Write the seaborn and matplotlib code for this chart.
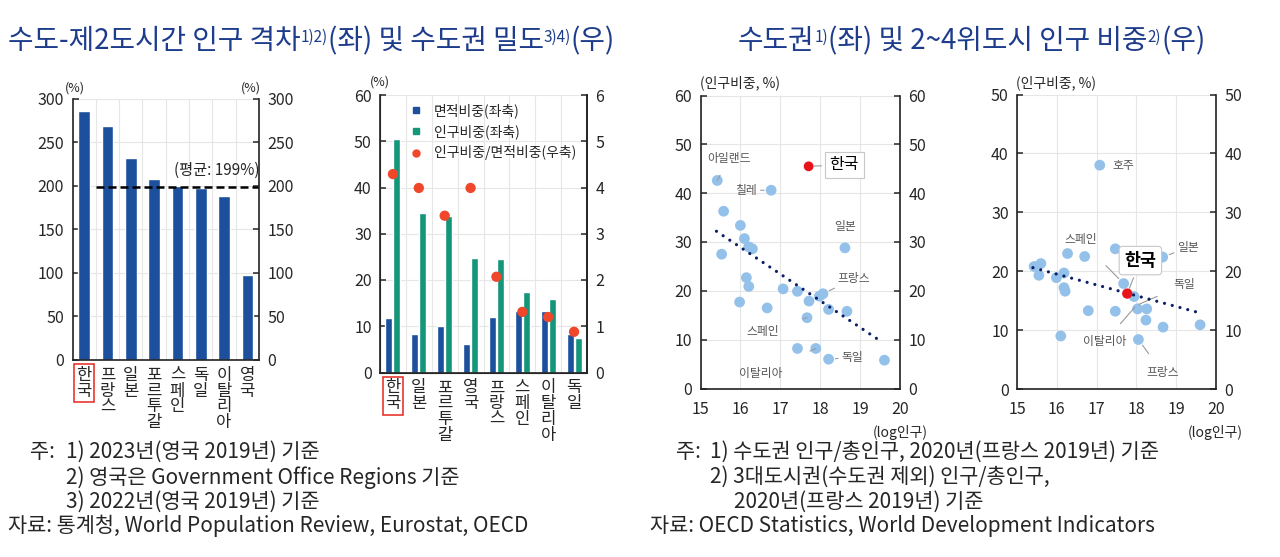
import numpy as np
import pandas as pd
import matplotlib.pyplot as plt
import seaborn as sns
from matplotlib.lines import Line2D

# 수도-제2도시간 인구 격차 (%)
GAP_COUNTRIES = ['한국', '프랑스', '일본', '포르투갈', '스페인', '독일', '이탈리아', '영국']
GAP_VALUES = [286, 269, 232, 208, 200, 197, 188, 97]
GAP_AVG = 199

# 수도권 밀도
DENS_COUNTRIES = ['한국', '일본', '포르투갈', '영국', '프랑스', '스페인', '이탈리아', '독일']
AREA_SHARE = [11.7, 8.4, 10.0, 6.1, 11.9, 13.3, 13.3, 8.4]
POP_SHARE = [50.5, 34.4, 33.9, 24.8, 24.5, 17.4, 15.9, 7.5]
RATIO = [4.29, 3.99, 3.39, 3.99, 2.07, 1.31, 1.20, 0.88]

# 수도권 인구 비중 vs log인구
CAP_LOGPOP = [15.42, 16.77, 15.58, 16.00, 16.10, 16.21, 16.30, 15.53, 16.15, 16.21,
              15.98, 16.67, 17.07, 17.43, 17.43, 18.62, 17.72, 17.98, 18.07, 18.21,
              18.67, 17.67, 17.89, 18.21, 19.61]
CAP_SHARE = [42.6, 40.6, 36.3, 33.4, 30.7, 29.0, 28.6, 27.5, 22.7, 20.9,
             17.7, 16.5, 20.4, 19.9, 8.2, 28.8, 17.9, 18.9, 19.4, 16.2,
             15.8, 14.5, 8.2, 6.0, 5.8]
KOR_CAP = (17.71, 45.5)
TREND_CAP_X = [15.40, 19.55]
TREND_CAP_Y = [32.2, 9.5]

# 2~4위도시 인구 비중 vs log인구
BIG_LOGPOP = [17.08, 15.43, 15.60, 15.55, 15.99, 16.18, 16.18, 16.21, 16.27, 16.70,
              16.79, 16.10, 17.47, 17.47, 17.68, 17.94, 18.03, 18.26, 18.24, 18.05,
              18.66, 18.67, 19.60]
BIG_SHARE = [38.0, 20.8, 21.3, 19.3, 18.9, 19.7, 17.2, 16.6, 23.0, 22.5,
             13.3, 9.0, 23.8, 13.2, 17.9, 15.7, 13.6, 13.6, 11.7, 8.4,
             22.4, 10.5, 10.9]
KOR_BIG = (17.77, 16.2)
TREND_BIG_X = [15.40, 19.55]
TREND_BIG_Y = [20.6, 13.0]

BLUE = '#1c4f9c'
GREEN = '#14967a'
RED = '#f0472a'
LIGHT = '#93c1e9'
NAVY = '#0b1f66'
TITLE_C = '#1d3c8c'
GRID = '#e6e6e6'
LABEL_C = '#555555'
LEAD_C = '#9a9a9a'


def style_axis(ax, right_labels=True):
    for s in ['left', 'right', 'bottom']:
        ax.spines[s].set_visible(True)
        ax.spines[s].set_color('#222222')
        ax.spines[s].set_linewidth(1.2)
    ax.spines['top'].set_visible(False)
    ax.tick_params(axis='y', direction='in', length=4, width=1.1, labelsize=11.5,
                   left=True, right=True, labelright=right_labels, pad=6)
    ax.set_xlabel('')
    ax.set_ylabel('')


def draw_title(bg, x, y, parts, size=20):
    base = None
    prev = None
    for txt, sup in parts:
        if base is None:
            t = bg.text(x, y, txt, fontsize=size, color=TITLE_C, ha='left', va='bottom')
            base = t
        elif sup:
            t = bg.annotate(txt, xy=(1, 0.92), xycoords=(prev, base), fontsize=size * 0.55,
                            color=TITLE_C, ha='left', va='top')
        else:
            t = bg.annotate(txt, xy=(1, 0), xycoords=(prev, base), fontsize=size,
                            color=TITLE_C, ha='left', va='bottom')
        prev = t


def vertical_labels(ax, names):
    ax.set_xticks(np.arange(len(names)))
    ax.set_xticklabels(['\n'.join(n) for n in names], fontsize=12, linespacing=0.9,
                       va='top')
    ax.tick_params(axis='x', length=0, pad=5)
    lbl = ax.get_xticklabels()[0]
    lbl.set_bbox(dict(facecolor='none', edgecolor='#e8241c', lw=1.1, boxstyle='square,pad=0.15'))


def leader(ax, text, point, pos, size=8.5, **kw):
    ax.annotate(text, xy=point, xytext=pos, fontsize=size, color=LABEL_C,
                ha=kw.pop('ha', 'center'), va='center',
                arrowprops=dict(arrowstyle='-', color=LEAD_C, lw=0.8,
                                shrinkA=kw.pop('shrinkA', 3), shrinkB=kw.pop('shrinkB', 5)),
                **kw)


def main():
    sns.set_style('white')
    plt.rcParams['font.family'] = ['Noto Sans CJK KR', 'DejaVu Sans']

    fig = plt.figure(figsize=(12.8, 5.57), dpi=100)
    bg = fig.add_axes([0, 0, 1, 1])
    bg.set_xlim(0, 1280)
    bg.set_ylim(557, 0)
    bg.axis('off')

    W, H = 1280, 557

    def rect(x0, y0, x1, y1):
        return [x0 / W, 1 - y1 / H, (x1 - x0) / W, (y1 - y0) / H]

    # ---- panel 1: 인구 격차 ----
    ax1 = fig.add_axes(rect(72.5, 98.5, 259, 360))
    sns.barplot(x=GAP_COUNTRIES, y=GAP_VALUES, color=BLUE, saturation=1, width=0.5, ax=ax1)
    ax1.axhline(GAP_AVG, xmin=1 / len(GAP_COUNTRIES), xmax=1, color='black', lw=1.8,
                ls=(0, (3.2, 1.6)))
    ax1.text(len(GAP_COUNTRIES) - 0.5, GAP_AVG + 9, f'(평균: {GAP_AVG}%)', fontsize=11,
             ha='right', va='bottom')
    ax1.set_ylim(0, 300)
    ax1.set_xlim(-0.5, len(GAP_COUNTRIES) - 0.5)
    ax1.set_yticks(np.arange(0, 301, 50))
    ax1.set_xticks(np.arange(len(GAP_COUNTRIES)) + 0.5, minor=True)
    ax1.grid(True, which='minor', axis='x', color=GRID, lw=0.8)
    ax1.grid(True, which='major', axis='y', color=GRID, lw=0.8)
    ax1.set_axisbelow(True)
    style_axis(ax1)
    ax1.tick_params(axis='x', which='minor', length=0)
    vertical_labels(ax1, GAP_COUNTRIES)
    bg.text(75, 88, '(%)', fontsize=9, ha='center', va='center')
    bg.text(251, 88, '(%)', fontsize=9, ha='center', va='center')

    # ---- panel 2: 수도권 밀도 ----
    ax2 = fig.add_axes(rect(380, 95, 587, 372.5))
    dens = pd.DataFrame({
        '국가': DENS_COUNTRIES * 2,
        '값': AREA_SHARE + POP_SHARE,
        '구분': ['면적비중(좌축)'] * len(DENS_COUNTRIES) + ['인구비중(좌축)'] * len(DENS_COUNTRIES),
    })
    sns.barplot(data=dens, x='국가', y='값', hue='구분', palette=[BLUE, GREEN], saturation=1,
                width=0.62, gap=0.12, ax=ax2, legend=False)
    ax2.set_ylim(0, 60)
    ax2.set_xlim(-0.5, len(DENS_COUNTRIES) - 0.5)
    ax2.set_yticks(np.arange(0, 61, 10))
    ax2.set_xticks(np.arange(len(DENS_COUNTRIES)) + 0.5, minor=True)
    ax2.grid(True, which='minor', axis='x', color=GRID, lw=0.8)
    ax2.grid(True, which='major', axis='y', color=GRID, lw=0.8)
    ax2.set_axisbelow(True)
    style_axis(ax2, right_labels=False)
    ax2.tick_params(axis='y', right=False)
    ax2.tick_params(axis='x', which='minor', length=0)
    vertical_labels(ax2, DENS_COUNTRIES)

    ax2r = ax2.twinx()
    sns.scatterplot(x=np.arange(len(DENS_COUNTRIES)), y=RATIO, color=RED, s=55,
                    edgecolor='none', ax=ax2r, zorder=5)
    ax2r.set_ylim(0, 6)
    ax2r.set_yticks(np.arange(0, 7, 1))
    ax2r.spines['top'].set_visible(False)
    ax2r.spines['right'].set_color('#222222')
    ax2r.spines['right'].set_linewidth(1.2)
    ax2r.tick_params(axis='y', direction='in', length=4, width=1.1, labelsize=11.5, pad=6)
    ax2r.set_ylabel('')
    handles = [
        Line2D([], [], marker='s', ls='', color=BLUE, markersize=5),
        Line2D([], [], marker='s', ls='', color=GREEN, markersize=5),
        Line2D([], [], marker='o', ls='', color=RED, markersize=5),
    ]
    ax2r.legend(handles, ['면적비중(좌축)', '인구비중(좌축)', '인구비중/면적비중(우축)'],
                loc='upper left', bbox_to_anchor=(0.08, 0.99), frameon=False, fontsize=10,
                handletextpad=0.3, labelspacing=0.45, borderaxespad=0)
    bg.text(380, 82, '(%)', fontsize=9, ha='center', va='center')

    # ---- panel 3: 수도권 ----
    ax3 = fig.add_axes(rect(700.5, 95.5, 900, 388.5))
    sns.lineplot(x=TREND_CAP_X, y=TREND_CAP_Y, color=NAVY, lw=2.3,
                 linestyle=(0, (0.01, 2.5)), dash_capstyle='round', ax=ax3, zorder=4)
    sns.scatterplot(x=CAP_LOGPOP, y=CAP_SHARE, color=LIGHT, s=60, edgecolor='none',
                    ax=ax3, zorder=3)
    sns.scatterplot(x=[KOR_CAP[0]], y=[KOR_CAP[1]], color='#e8141b', s=50,
                    edgecolor='none', ax=ax3, zorder=5)
    ax3.set_xlim(15, 20)
    ax3.set_ylim(0, 60)
    ax3.set_yticks(np.arange(0, 61, 10))
    ax3.set_xticks(np.arange(15, 21, 1))
    ax3.grid(True, color=GRID, lw=0.8)
    ax3.set_axisbelow(True)
    style_axis(ax3)
    ax3.tick_params(axis='x', length=0, labelsize=11.5, pad=9)

    leader(ax3, '아일랜드', (15.42, 42.6), (15.72, 47.2), shrinkA=6, shrinkB=5)
    leader(ax3, '칠레', (16.77, 40.6), (16.15, 40.6), shrinkA=12, shrinkB=5)
    ax3.text(18.62, 33.2, '일본', fontsize=8.5, color=LABEL_C, ha='center', va='center')
    leader(ax3, '프랑스', (18.07, 19.4), (18.85, 22.5), shrinkA=14, shrinkB=5)
    leader(ax3, '스페인', (17.67, 14.5), (16.55, 11.6), shrinkA=16, shrinkB=5)
    leader(ax3, '이탈리아', (17.89, 8.2), (16.5, 3.1), shrinkA=22, shrinkB=5)
    leader(ax3, '독일', (18.21, 6.0), (18.8, 6.4), shrinkA=10, shrinkB=5)
    ax3.annotate('한국', xy=KOR_CAP, xytext=(18.6, 45.8), fontsize=11.5, color='black',
                 ha='center', va='center',
                 bbox=dict(boxstyle='square,pad=0.3', fc='white', ec='#c8c8c8', lw=0.8),
                 arrowprops=dict(arrowstyle='-', color=LEAD_C, lw=0.8, shrinkA=2, shrinkB=4))
    bg.text(700, 83, '(인구비중, %)', fontsize=10, ha='left', va='center')
    bg.text(900, 432, '(log인구)', fontsize=10, ha='center', va='center')

    # ---- panel 4: 2~4위도시 ----
    ax4 = fig.add_axes(rect(1017, 94.5, 1216, 389))
    sns.lineplot(x=TREND_BIG_X, y=TREND_BIG_Y, color=NAVY, lw=2.3,
                 linestyle=(0, (0.01, 2.5)), dash_capstyle='round', ax=ax4, zorder=4)
    sns.scatterplot(x=BIG_LOGPOP, y=BIG_SHARE, color=LIGHT, s=60, edgecolor='none',
                    ax=ax4, zorder=3)
    sns.scatterplot(x=[KOR_BIG[0]], y=[KOR_BIG[1]], color='#e8141b', s=55,
                    edgecolor='none', ax=ax4, zorder=5)
    ax4.set_xlim(15, 20)
    ax4.set_ylim(0, 50)
    ax4.set_yticks(np.arange(0, 51, 10))
    ax4.set_xticks(np.arange(15, 21, 1))
    ax4.grid(True, color=GRID, lw=0.8)
    ax4.set_axisbelow(True)
    style_axis(ax4)
    ax4.tick_params(axis='x', length=0, labelsize=11.5, pad=9)

    ax4.text(17.4, 38.0, '호주', fontsize=8.5, color=LABEL_C, ha='left', va='center')
    leader(ax4, '스페인', (17.68, 17.9), (16.6, 25.3), shrinkA=16, shrinkB=5)
    leader(ax4, '일본', (18.66, 22.4), (19.3, 24.0), shrinkA=10, shrinkB=5)
    leader(ax4, '독일', (18.0, 14.2), (19.2, 17.7), shrinkA=10, shrinkB=2)
    leader(ax4, '이탈리아', (18.0, 14.2), (17.2, 8.0), shrinkA=8, shrinkB=2)
    leader(ax4, '프랑스', (18.05, 8.4), (18.65, 2.8), shrinkA=8, shrinkB=5)
    ax4.annotate('한국', xy=KOR_BIG, xytext=(18.1, 21.8), fontsize=12.5, fontweight='bold',
                 color='black', ha='center', va='center',
                 bbox=dict(boxstyle='round,pad=0.3,rounding_size=0.2', fc='white',
                           ec='#c8c8c8', lw=0.8),
                 arrowprops=dict(arrowstyle='-', color=LEAD_C, lw=0.8, shrinkA=2, shrinkB=4))
    bg.text(1016, 83, '(인구비중, %)', fontsize=10, ha='left', va='center')
    bg.text(1215, 432, '(log인구)', fontsize=10, ha='center', va='center')

    # ---- titles ----
    draw_title(bg, 8, 56, [('수도-제2도시간 인구 격차', False), ('1)2)', True),
                           ('(좌) 및 수도권 밀도', False), ('3)4)', True), ('(우)', False)])
    draw_title(bg, 738, 56, [('수도권', False), ('1)', True),
                             ('(좌) 및 2~4위도시 인구 비중', False), ('2)', True), ('(우)', False)])

    # ---- notes ----
    ns = 15
    bg.text(30, 452, '주:', fontsize=ns, va='center')
    bg.text(66, 452, '1) 2023년(영국 2019년) 기준', fontsize=ns, va='center')
    bg.text(66, 478, '2) 영국은 Government Office Regions 기준', fontsize=ns, va='center')
    bg.text(66, 502, '3) 2022년(영국 2019년) 기준', fontsize=ns, va='center')
    bg.text(8, 526, '자료: 통계청, World Population Review, Eurostat, OECD', fontsize=ns, va='center')

    bg.text(676, 452, '주:', fontsize=ns, va='center')
    bg.text(710, 452, '1) 수도권 인구/총인구, 2020년(프랑스 2019년) 기준', fontsize=ns, va='center')
    bg.text(710, 477, '2) 3대도시권(수도권 제외) 인구/총인구,', fontsize=ns, va='center')
    bg.text(734, 502, '2020년(프랑스 2019년) 기준', fontsize=ns, va='center')
    bg.text(650, 526, '자료: OECD Statistics, World Development Indicators', fontsize=ns, va='center')

    fig.savefig('out.png', dpi=100)
    plt.close(fig)


if __name__ == '__main__':
    main()
